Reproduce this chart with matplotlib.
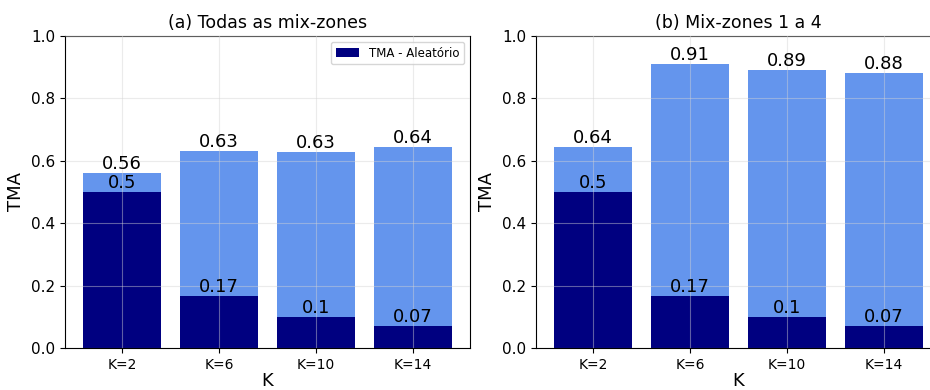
import matplotlib
matplotlib.use("Agg")
import matplotlib.pyplot as plt

# data
k_labels = ['K=2', 'K=6', 'K=10', 'K=14']
tma_all = [0.562, 0.632, 0.628, 0.644]
tma_mz14 = [0.643, 0.910, 0.890, 0.882]
tma_random = [0.5, 0.167, 0.1, 0.071]
titles = ['(a) Todas as mix-zones', '(b) Mix-zones 1 a 4']

fig = plt.figure(figsize=(9.3, 3.9), dpi=100)
ax1 = fig.add_axes([0.0699, 0.1077, 0.4355, 0.8])
ax2 = fig.add_axes([0.5763, 0.1077, 0.4355, 0.8])

x = list(range(len(k_labels)))

for ax, vals, title in zip([ax1, ax2], [tma_all, tma_mz14], titles):
    ax.bar(x, vals, width=0.8, color='cornflowerblue')
    ax.bar(x, tma_random, width=0.8, color='navy', label='TMA - Aleatório')
    for xi, v in zip(x, vals):
        ax.text(xi, v, str(round(v, 2)), ha='center', va='bottom', fontsize=13)
    for xi, v in zip(x, tma_random):
        ax.text(xi, v, str(round(v, 2)), ha='center', va='bottom', fontsize=13)
    ax.set_ylim(0, 1.0)
    ax.set_xticks(x)
    ax.set_xticklabels(k_labels, fontsize=10)
    ax.tick_params(axis='y', labelsize=11)
    ax.set_xlabel('K', fontsize=13, labelpad=0)
    ax.set_ylabel('TMA', fontsize=13)
    ax.set_title(title, fontsize=12.5)
    ax.grid(True, color='lightgray', alpha=0.45, linewidth=0.8)
    ax.set_axisbelow(False)

ax1.legend(loc='upper right', fontsize=8.5)

fig.savefig('out.png', dpi=100)
